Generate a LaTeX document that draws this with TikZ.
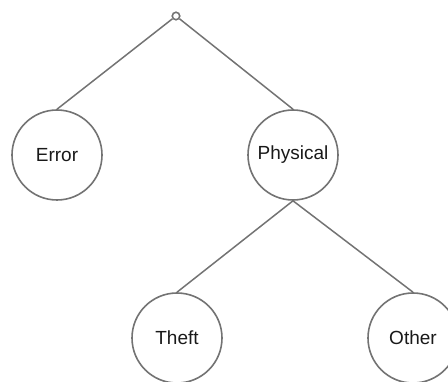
\documentclass[tikz,border=0pt]{standalone}
\usepackage{fontspec}
\setmainfont{Liberation Sans}
\usetikzlibrary{positioning}
\definecolor{edgegray}{RGB}{115,115,115}
\definecolor{textgray}{RGB}{25,25,25}

\begin{document}
\begin{tikzpicture}[x=1pt,y=1pt,
  cat/.style={circle, draw=edgegray, line width=1.6pt, minimum size=90pt, inner sep=0pt,
              font=\fontsize{19}{21}\selectfont, text=textgray},
  branch/.style={draw=edgegray, line width=1.5pt}]
%% \draw[help lines] (0,0) grid[step=20] (448,381);
\useasboundingbox (0,0) rectangle (448,381);
\node[circle, draw=edgegray, line width=1.6pt, minimum size=7.5pt, inner sep=0pt] (root) at (176,365) {};
\node[cat] (err) at (57,226) {Error};
\node[cat] (phys) at (293,226) {Physical};
\node[cat] (theft) at (177,43) {Theft};
\node[cat] (other) at (413,43) {Other};

\draw[branch] (root) -- (err.north);
\draw[branch] (root) -- (phys.north);
\draw[branch] (phys.south) -- (theft.north);
\draw[branch] (phys.south) -- (other.north);
\end{tikzpicture}
\end{document}
